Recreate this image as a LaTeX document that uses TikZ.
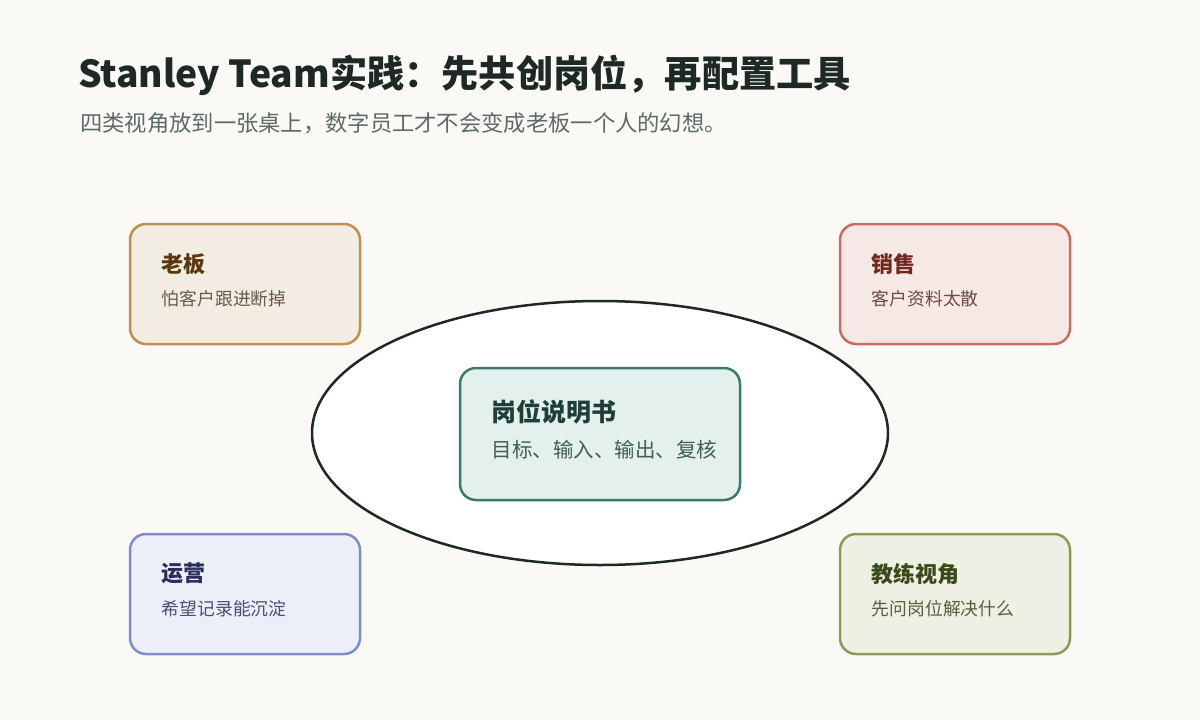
\documentclass[tikz,border=0pt]{standalone}
\usepackage{fontspec}
\usepackage{tikz}
\usepackage{xcolor}
\setmainfont{Noto Sans CJK SC}

\definecolor{paper}{HTML}{FAF9F6}
\definecolor{ink}{HTML}{1E2825}
\definecolor{subink}{HTML}{5E6A65}
\definecolor{bossfill}{HTML}{F3ECE2}
\definecolor{bossline}{HTML}{BF8F4F}
\definecolor{bosshead}{HTML}{5A3812}
\definecolor{bosstext}{HTML}{6B5A48}
\definecolor{salefill}{HTML}{F6E8E4}
\definecolor{saleline}{HTML}{C86E60}
\definecolor{salehead}{HTML}{6E2A1E}
\definecolor{saletext}{HTML}{6E4A40}
\definecolor{opsfill}{HTML}{ECEEF8}
\definecolor{opsline}{HTML}{7F8CC8}
\definecolor{opshead}{HTML}{2A2F5A}
\definecolor{opstext}{HTML}{4A5070}
\definecolor{coachfill}{HTML}{EEF0E4}
\definecolor{coachline}{HTML}{8A9A58}
\definecolor{coachhead}{HTML}{3A4A1A}
\definecolor{coachtext}{HTML}{55603F}
\definecolor{rolefill}{HTML}{E4F0EE}
\definecolor{roleline}{HTML}{3A7A6A}
\definecolor{rolehead}{HTML}{1D3F38}
\definecolor{roletext}{HTML}{3F5F58}

\tikzset{
  card/.style={draw, rectangle, rounded corners=16pt, line width=2.5pt,
    minimum width=230pt, minimum height=120pt},
  cardhead/.style={anchor=west, inner sep=0pt, font=\fontsize{22}{26}\selectfont\bfseries},
  cardtext/.style={anchor=west, inner sep=0pt, font=\fontsize{17.8}{21}\selectfont}
}

\begin{document}
\begin{tikzpicture}[x=1pt,y=-1pt]
                \fill[paper] (0,0) rectangle (1200,720);
                \useasboundingbox (0,0) rectangle (1200,720);

                % heading
                \node[anchor=base west, inner sep=0pt, text=ink,
                  font=\fontsize{37.2}{44}\selectfont\bfseries] (title) at (78,87) {Stanley Team实践：先共创岗位，再配置工具};
                \node[anchor=base west, inner sep=0pt, text=subink,
                  font=\fontsize{22.3}{26}\selectfont] (subtitle) at (80,131) {四类视角放到一张桌上，数字员工才不会变成老板一个人的幻想。};

                % the table
                \draw[ink, line width=2.5pt, fill=white] (600,433) ellipse (288pt and 132pt);

                % four views
                \node[card, draw=bossline, fill=bossfill] (boss) at (245,284) {};
                \node[cardhead, text=bosshead] (bosshead) at ([xshift=33pt,yshift=-41pt]boss.north west) {老板};
                \node[cardtext, text=bosstext] (bosstext) at ([xshift=33pt,yshift=-76pt]boss.north west) {怕客户跟进断掉};

                \node[card, draw=saleline, fill=salefill] (sale) at (955,284) {};
                \node[cardhead, text=salehead] (salehead) at ([xshift=33pt,yshift=-41pt]sale.north west) {销售};
                \node[cardtext, text=saletext] (saletext) at ([xshift=33pt,yshift=-76pt]sale.north west) {客户资料太散};

                \node[card, draw=opsline, fill=opsfill] (ops) at (245,594) {};
                \node[cardhead, text=opshead] (opshead) at ([xshift=33pt,yshift=-41pt]ops.north west) {运营};
                \node[cardtext, text=opstext] (opstext) at ([xshift=33pt,yshift=-76pt]ops.north west) {希望记录能沉淀};

                \node[card, draw=coachline, fill=coachfill] (coach) at (955,594) {};
                \node[cardhead, text=coachhead] (coachhead) at ([xshift=33pt,yshift=-41pt]coach.north west) {教练视角};
                \node[cardtext, text=coachtext] (coachtext) at ([xshift=33pt,yshift=-76pt]coach.north west) {先问岗位解决什么};

                % role card in the middle
                \node[card, draw=roleline, fill=rolefill, minimum width=280pt, minimum height=132pt] (role) at (600,434) {};
                \node[cardhead, text=rolehead, font=\fontsize{25}{30}\selectfont\bfseries] (rolehead) at ([xshift=33pt,yshift=-45pt]role.north west) {岗位说明书};
                \node[cardtext, text=roletext, font=\fontsize{20.5}{24}\selectfont] (roletext) at ([xshift=33pt,yshift=-83pt]role.north west) {目标、输入、输出、复核};
            \end{tikzpicture}
\end{document}
